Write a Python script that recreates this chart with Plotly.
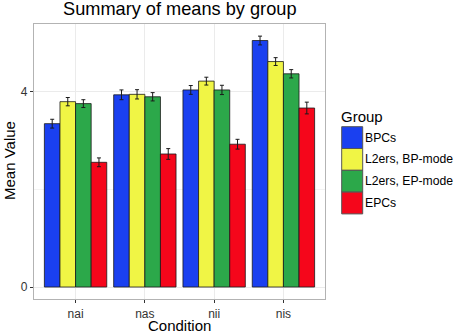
import plotly.graph_objects as go

conditions = ["nai", "nas", "nii", "nis"]
groups = ["BPCs", "L2ers, BP-mode", "L2ers, EP-mode", "EPCs"]
colors = ["#1a40f0", "#f0f545", "#2ca84a", "#f5061b"]

means = {
    "BPCs":           [3.34, 3.93, 4.03, 5.04],
    "L2ers, BP-mode": [3.79, 3.94, 4.21, 4.61],
    "L2ers, EP-mode": [3.75, 3.89, 4.03, 4.36],
    "EPCs":           [2.55, 2.72, 2.92, 3.66],
}
errors = {
    "BPCs":           [0.09, 0.10, 0.09, 0.09],
    "L2ers, BP-mode": [0.085, 0.095, 0.08, 0.08],
    "L2ers, EP-mode": [0.08, 0.085, 0.095, 0.085],
    "EPCs":           [0.09, 0.11, 0.10, 0.12],
}
y_ticks = [0, 4]

FONT = "Liberation Sans, Arial, sans-serif"

fig = go.Figure()
for g, c in zip(groups, colors):
    fig.add_trace(go.Bar(
        x=conditions, y=means[g], name=g,
        marker=dict(color=c, line=dict(color="#1a1a1a", width=0.8)),
        error_y=dict(type="data", array=errors[g], color="#1a1a1a", thickness=1, width=2),
    ))

W, H = 456, 334
# panel in reference pixels: x 34..325, y 24..299
ml, mr, mt, mb = 34, W - 325, 24, H - 299
pw, ph = W - ml - mr, H - mt - mb

fig.update_layout(
    width=W, height=H,
    margin=dict(l=ml, r=mr, t=mt, b=mb, autoexpand=False),
    barmode="group", bargap=0.1, bargroupgap=0,
    paper_bgcolor="white", plot_bgcolor="white",
    showlegend=False,
    font=dict(family=FONT, color="#000"),
    xaxis=dict(
        automargin=False,
        showgrid=True, gridcolor="#ebebeb", gridwidth=1,
        ticks="outside", ticklen=3, tickcolor="#333", tickwidth=1,
        tickfont=dict(size=12, color="#333"),
        showline=True, linecolor="#b3b3b3", linewidth=1.2, mirror=True,
        range=[-0.6, 3.6],
    ),
    yaxis=dict(
        automargin=False,
        range=[-0.245, 5.378],
        tickvals=y_ticks, ticktext=[str(v) for v in y_ticks],
        showgrid=True, gridcolor="#ebebeb", gridwidth=1,
        minor=dict(tickvals=[2], showgrid=True, gridcolor="#f3f3f3", gridwidth=0.6),
        zeroline=False,
        ticks="outside", ticklen=3, tickcolor="#333", tickwidth=1,
        tickfont=dict(size=12, color="#333"),
        showline=True, linecolor="#b3b3b3", linewidth=1.2, mirror=True,
    ),
)

# helpers: reference-pixel coords -> paper coords
def xp(x):
    return (x - ml) / pw
def yp(y):
    return (H - mb - y) / ph

# title
fig.add_annotation(text="Summary of means by group", xref="paper", yref="paper",
                   x=xp(179.5), y=yp(9.5), xanchor="center", yanchor="middle",
                   showarrow=False, font=dict(size=18.2, color="#000"))
# axis titles
fig.add_annotation(text="Condition", xref="paper", yref="paper",
                   x=xp(179.5), y=yp(325), xanchor="center", yanchor="middle",
                   showarrow=False, font=dict(size=15, color="#000"))
fig.add_annotation(text="Mean Value", xref="paper", yref="paper",
                   x=xp(9), y=yp(161), xanchor="center", yanchor="middle", textangle=-90,
                   showarrow=False, font=dict(size=15, color="#000"))

# manual legend
fig.add_annotation(text="Group", xref="paper", yref="paper",
                   x=xp(339), y=yp(116), xanchor="left", yanchor="middle", showarrow=False,
                   font=dict(size=15, color="#000"))
key_x0, key_x1 = 341.7, 362.7
row_top, row_h = 126.7, 21.8
for i, (g, c) in enumerate(zip(groups, colors)):
    y0 = row_top + i * row_h
    y1 = y0 + row_h
    fig.add_shape(type="rect", xref="paper", yref="paper",
                  x0=xp(key_x0), x1=xp(key_x1), y0=yp(y1), y1=yp(y0),
                  fillcolor=c, line=dict(color="#555", width=1))
    fig.add_annotation(text=g, xref="paper", yref="paper",
                       x=xp(363), y=yp((y0 + y1) / 2),
                       xanchor="left", yanchor="middle", showarrow=False,
                       font=dict(size=12.2, color="#000"))

# remove the browser's default 8px body margin so the figure sits at the window origin
fig.write_html("out.html", config={"displayModeBar": False},
               post_script="document.body.style.margin='0';")
